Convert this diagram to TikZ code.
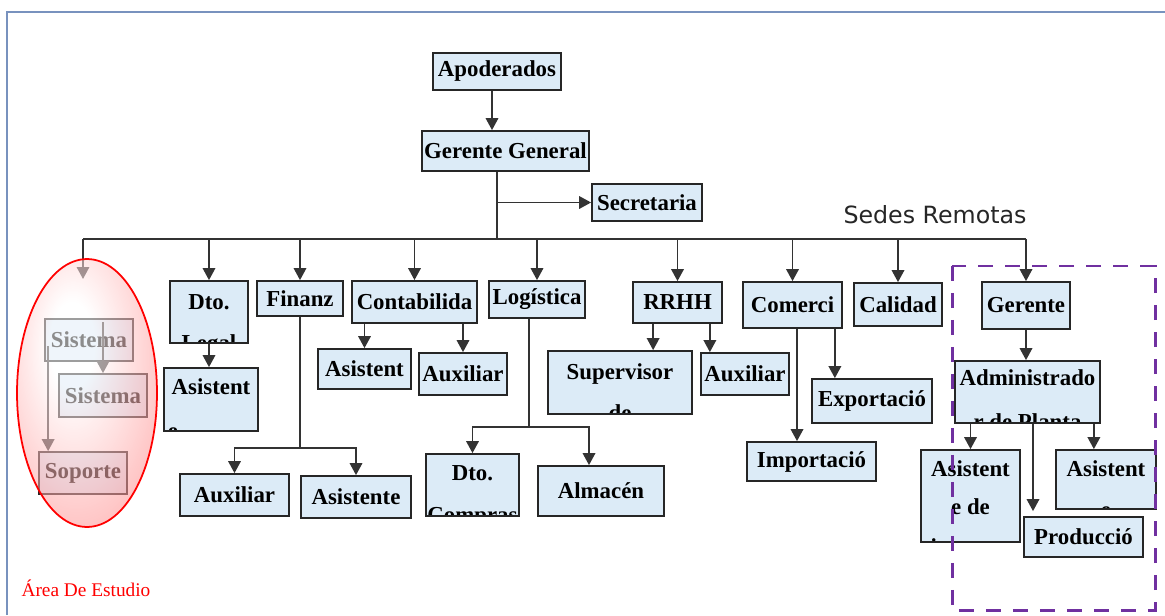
\documentclass[tikz,border=0pt]{standalone}
\usepackage{fontspec}
\setmainfont{Liberation Serif}
\newfontfamily\remotefont{DejaVu Sans}
\usepackage{xcolor}
\usepackage{tikz}
\usetikzlibrary{calc, positioning, arrows.meta, shapes.geometric}
\definecolor{boxblue}{RGB}{220,235,247}
\definecolor{framec}{RGB}{120,146,190}
\definecolor{remote}{RGB}{112,48,160}
\newcommand\boxfont{\bfseries\fontsize{13}{15}\selectfont}
\pgfdeclareradialshading{areashade}{\pgfpoint{-6bp}{10bp}}{color(0bp)=(white); color(8bp)=(white); color(22bp)=(red!25); color(36bp)=(red!50); color(55bp)=(red!65); color(80bp)=(red!65)}
\tikzset{
    unit/.style={rectangle, draw=black!85, line width=1pt, fill=boxblue, font=\boxfont, inner sep=0pt},
    wh/.style 2 args={minimum width=#1cm, minimum height=#2cm},
    frag/.style={anchor=base, font=\boxfont, inner sep=0pt},
    cut/.style={path picture={\foreach \dx/\dy/\txt in {#1} {\node[frag] at ([xshift=\dx cm, yshift=-\dy cm]path picture bounding box.north) {\txt};}}},
    link/.style={draw=black!80, line width=1pt},
    arrow/.style={link, -{Triangle[width=0.25cm, length=0.24cm]}},
    area/.style={shading=areashade, fill opacity=0.55},
    remotebox/.style={draw=remote, line width=1.7pt, dash pattern=on 0.3cm off 0.24cm}
}

\begin{document}
\begin{tikzpicture}[x=0.02cm, y=-0.02cm]
    \useasboundingbox (0,0) rectangle (1165,615);
    \draw[framec, line width=0.9pt] (7,615) -- (7,12) -- (1165,12);

    % Top
    \node[unit, wh={2.56}{0.74}] (apod) at (497,71.5) {Apoderados};
    \node[unit, wh={3.34}{0.80}] (gg) at (505.5,151) {Gerente General};
    \node[unit, wh={2.20}{0.74}] (secr) at (647,202.5) {Secretaria};
    \node[font=\remotefont\fontsize{13.5}{15}\selectfont, text=black!85] (sedes) at (935,215) {Sedes Remotas};

    % Study area
    \node[unit, wh={1.76}{0.84}] (sis1) at (89,340) {Sistema};
    \node[unit, wh={1.76}{0.86}] (sis2) at (103,395.5) {Sistema};
    \node[unit, wh={1.76}{0.84}] (sop) at (83,473) {Soporte};

    % Departments
    \node[unit, wh={1.56}{1.24}, cut={0/0.56/Dto., 0/1.40/Legal}] (dto) at (209,312) {};
    \node[unit, wh={1.88}{1.26}, cut={0/0.52/Asistent, -0.76/1.41/e}] (asis1) at (211,399.5) {};
    \node[unit, wh={1.72}{0.70}] (fin) at (300,298.5) {Finanz};
    \node[unit, wh={2.18}{0.84}] (auxF) at (234.5,495) {Auxiliar};
    \node[unit, wh={2.20}{0.84}] (asisF) at (356,497) {Asistente};
    \node[unit, wh={2.50}{0.84}] (cont) at (414.5,302) {Contabilida};
    \node[unit, wh={1.86}{0.80}] (asisC) at (364.5,369) {Asistent};
    \node[unit, wh={1.76}{0.84}] (auxC) at (463,374) {Auxiliar};
    \node[unit, wh={1.92}{0.74}] (log) at (537,299.5) {Logística};
    \node[unit, wh={1.86}{1.24}, cut={0/0.52/Dto., 0/1.37/Compras}] (dtoC) at (472.5,485) {};
    \node[unit, wh={2.52}{1.00}] (alm) at (601,491) {Almacén};
    \node[unit, wh={1.78}{0.82}] (rrhh) at (677.5,302.5) {RRHH};
    \node[unit, wh={2.88}{1.26}, cut={0/0.56/Supervisor, 0/1.40/de}] (sup) at (620,382.5) {};
    \node[unit, wh={1.76}{0.84}] (auxR) at (745,374) {Auxiliar};
    \node[unit, wh={1.98}{0.92}] (com) at (792.5,305) {Comerci};
    \node[unit, wh={2.40}{0.88}] (exp) at (872,401) {Exportació};
    \node[unit, wh={2.58}{0.78}] (imp) at (811.5,461.5) {Importació};
    \node[unit, wh={1.76}{0.86}] (cal) at (898,304.5) {Calidad};

    % Remote site
    \node[unit, wh={1.76}{0.94}] (ger) at (1026,305.5) {Gerente};
    \node[unit, wh={2.90}{1.24}, cut={0/0.48/Administrado, 0/1.38/r de Planta}] (adm) at (1027.5,392) {};
    \node[unit, wh={1.98}{1.84}, cut={0/0.52/Asistent, 0/1.28/e de, 0/2.10/insumos}] (asisD) at (970.5,496) {};
    \node[unit, wh={2.00}{1.18}, cut={0/0.52/Asistent, 0/1.34/e}] (asisE) at (1106,479.5) {};
    \node[unit, wh={2.38}{0.80}] (prod) at (1083.5,537) {Producció};

    % Trunk and bus
    \coordinate (a0) at ([xshift=-0.1cm]apod.south);
    \draw[arrow] (a0) -- (a0 |- gg.north);
    \coordinate (trunk) at (497,239);
    \coordinate (busL) at (83,239);
    \coordinate (elTop) at (83,279);
    \draw[link] (trunk |- gg.south) -- (trunk);
    \draw[arrow] (trunk |- secr.west) -- (secr.west);
    \draw[link] (busL) -- (ger.north |- busL);
    \draw[arrow] (busL) -- (elTop);
    \foreach \n in {dto,fin,cont,log,rrhh,com,cal,ger}
        \draw[arrow] (\n.north |- busL) -- (\n.north);

    % Inside the study area
    \coordinate (s0) at ([yshift=-0.08cm]sis1.north -| sis2.north);
    \draw[arrow] (s0) -- (sis2.north);
    \coordinate (s1) at ([xshift=0.08cm, yshift=-0.56cm]sis1.north west);
    \draw[arrow] (s1) -- (s1 |- sop.north);

    % Second level
    \draw[arrow] (dto.south) -- (dto.south |- asis1.north);
    \coordinate (finJ) at (299,448);
    \draw[link] (fin.south) -- (fin.south |- finJ);
    \draw[arrow] (fin.south |- finJ) -| (auxF.north);
    \draw[arrow] (fin.south |- finJ) -| (asisF.north);
    \draw[arrow] (asisC.north |- cont.south) -- (asisC.north);
    \draw[arrow] (auxC.north |- cont.south) -- (auxC.north);
    \coordinate (logJ) at (529,427);
    \coordinate (almIn) at ([xshift=-0.24cm]alm.north);
    \draw[link] (logJ |- log.south) -- (logJ);
    \draw[arrow] (logJ) -| (dtoC.north);
    \draw[arrow] (logJ) -| (almIn);
    \coordinate (r1) at ([xshift=0.42cm]rrhh.south west);
    \coordinate (r2) at ([xshift=-0.26cm]rrhh.south east);
    \draw[arrow] (r1) -- (r1 |- sup.north);
    \draw[arrow] (r2) -- (r2 |- auxR.north);
    \coordinate (c1) at ([xshift=0.09cm]com.south);
    \coordinate (c2) at ([xshift=-0.16cm]com.south east);
    \draw[arrow] (c1) -- (c1 |- imp.north);
    \draw[arrow] (c2) -- (c2 |- exp.north);
    \draw[arrow] (ger.south) -- (ger.south |- adm.north);
    \draw[arrow] (asisD.north |- adm.south) -- (asisD.north);
    \coordinate (m1) at ([xshift=0.11cm]adm.south);
    \coordinate (m2) at ($(m1 |- prod.north)+(0,-5)$);
    \draw[arrow] (m1) -- (m2);
    \coordinate (a3) at ([xshift=-0.14cm]adm.south east);
    \draw[arrow] (a3) -- (a3 |- asisE.north);

    % Highlights
    \path[area] (87,393) ellipse [x radius=1.40cm, y radius=2.68cm];
    \draw[red, line width=1pt] (87,393) ellipse [x radius=1.40cm, y radius=2.68cm];
    \node[text=red, font=\fontsize{11}{13}\selectfont] (estudio) at (86,588) {Área De Estudio};
    \draw[remotebox] (952,266) rectangle (1155,610);
\end{tikzpicture}
\end{document}
